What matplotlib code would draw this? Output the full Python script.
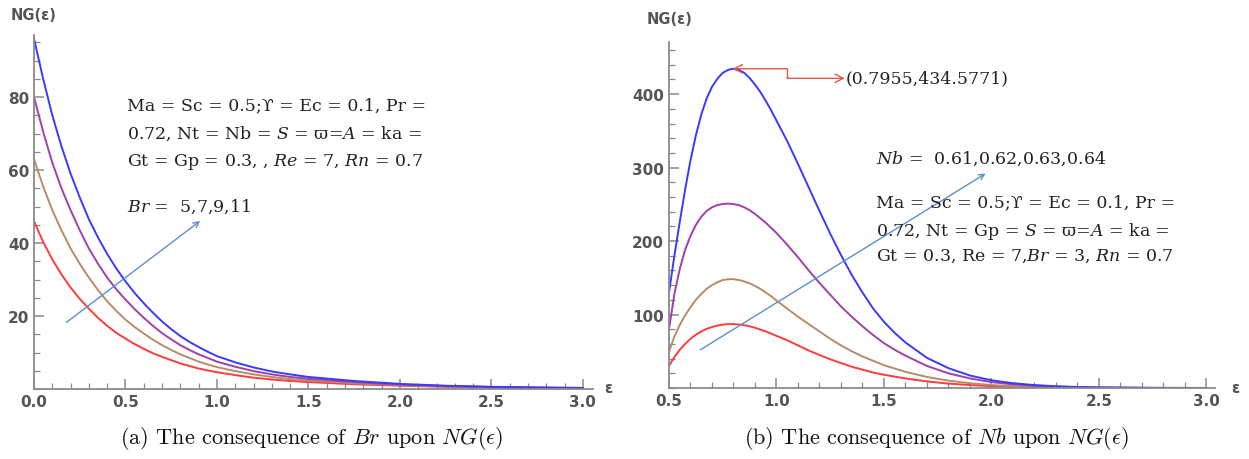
import matplotlib
matplotlib.use('Agg')
import matplotlib.pyplot as plt
from matplotlib.ticker import MultipleLocator, FormatStrFormatter

plt.rcParams['mathtext.fontset'] = 'custom'
plt.rcParams['mathtext.rm'] = 'DejaVu Serif'
plt.rcParams['mathtext.it'] = 'DejaVu Serif:italic'
plt.rcParams['mathtext.fallback'] = 'stix'

# (a) entropy generation vs epsilon for Br = 5, 7, 9, 11
eps_a = [0.0, 0.05, 0.1, 0.15, 0.2, 0.25, 0.3, 0.35, 0.4, 0.45, 0.5, 0.55,
         0.6, 0.65, 0.7, 0.75, 0.8, 0.85, 0.9, 0.95, 1.0, 1.1, 1.2, 1.3, 1.4,
         1.5, 1.75, 2.0, 2.25, 2.5, 2.75, 3.0]
ng_br5 = [46, 40.3, 35.5, 31.4, 27.8, 24.7, 22, 19.5, 17.3, 15.4, 13.8, 12.3,
          11, 9.8, 8.8, 7.9, 7, 6.3, 5.6, 5.1, 4.6, 3.8, 3.1, 2.6, 2.2,
          1.9, 1.3, 0.9, 0.6, 0.45, 0.32, 0.22]
ng_br7 = [63, 55.5, 49, 43.5, 38.5, 34.3, 30.5, 27.1, 24, 21.4, 19, 17,
          15.2, 13.5, 12, 10.7, 9.5, 8.5, 7.5, 6.7, 6, 4.9, 4, 3.3, 2.7,
          2.3, 1.6, 1.05, 0.7, 0.5, 0.35, 0.25]
ng_br9 = [80, 70.5, 62, 55, 49, 43.5, 38.5, 34.3, 30.5, 27.3, 24.5, 21.9,
          19.5, 17.3, 15.3, 13.6, 12, 10.7, 9.5, 8.5, 7.5, 6.1, 4.9, 4, 3.3,
          2.8, 1.9, 1.2, 0.8, 0.55, 0.38, 0.27]
ng_br11 = [96, 85, 75, 66.5, 59, 52.5, 46.5, 41.5, 37, 33, 29.5, 26.3,
           23.5, 20.9, 18.5, 16.4, 14.5, 12.9, 11.5, 10.2, 9, 7.3, 5.9, 4.8, 4,
           3.3, 2.2, 1.4, 0.9, 0.6, 0.4, 0.3]

# (b) entropy generation vs epsilon for Nb = 0.61 ... 0.64
eps_b = [0.5, 0.525, 0.55, 0.575, 0.6, 0.625, 0.65, 0.675, 0.7, 0.725, 0.75,
         0.775, 0.7955, 0.825, 0.85, 0.875, 0.9, 0.925, 0.95, 0.975, 1.0,
         1.05, 1.1, 1.15, 1.2, 1.25, 1.3, 1.35, 1.4, 1.45, 1.5, 1.55, 1.6,
         1.7, 1.8, 1.9, 2.0, 2.1, 2.2, 2.3, 2.4, 2.5, 2.75, 3.0]
ng_nb61 = [30, 42, 52, 60, 67, 72.5, 77, 80.5, 83, 85, 86.3,
           87, 87, 86.5, 85.5, 84, 82, 79.5, 77, 74, 71,
           65, 58, 51, 45, 39, 34, 29, 25, 21, 18, 15.5, 13,
           9, 6, 4, 2.5, 1.5, 0.9, 0.55, 0.3, 0.2, 0.05, 0.01]
ng_nb62 = [49, 70, 86, 99, 110, 120, 128, 135, 140, 144, 147,
           148, 148.3, 147, 145, 142.5, 139, 135, 130, 125, 119,
           108, 97, 87, 77, 67, 58, 50, 43, 37, 31, 26.5, 22,
           15, 10, 6.5, 4, 2.5, 1.5, 0.9, 0.5, 0.3, 0.08, 0.02]
ng_nb63 = [80, 128, 162, 188, 207, 222, 233, 241, 246, 249, 250.5,
           251, 250.5, 249, 246, 242, 237, 231, 225, 218, 211,
           195, 178, 160, 143, 127, 111, 97, 84, 72, 61, 52, 44,
           30, 20, 13, 8, 5, 3, 1.8, 1, 0.6, 0.15, 0.04]
ng_nb64 = [130, 180, 226, 270, 310, 344, 372, 394, 410, 421, 429,
           433, 434.5771, 433, 429, 422, 413, 403, 391, 378, 364,
           336, 305, 273, 241, 210, 181, 154, 130, 108, 90, 75, 62,
           41, 27, 17, 10.5, 6.5, 4, 2.4, 1.4, 0.8, 0.2, 0.05]
peak = (0.7955, 434.5771)

colors = ['#ff3b3b', '#b88c66', '#a040a8', '#3a3aff']
tick_color = '#555555'
axis_color = '#8a8a8a'

fig = plt.figure(figsize=(12.49, 4.6), dpi=100)
W, H = 1249, 460


def px_axes(x0, y_top, x1, y_bot):
    return fig.add_axes([x0 / W, 1 - y_bot / H, (x1 - x0) / W, (y_bot - y_top) / H])


def style(ax, xmaj, xmin, ymaj, ymin):
    for s in ['top', 'right']:
        ax.spines[s].set_visible(False)
    for s in ['left', 'bottom']:
        ax.spines[s].set_color(axis_color)
        ax.spines[s].set_linewidth(1.3)
    ax.xaxis.set_major_locator(MultipleLocator(xmaj))
    ax.xaxis.set_minor_locator(MultipleLocator(xmin))
    ax.yaxis.set_major_locator(MultipleLocator(ymaj))
    ax.yaxis.set_minor_locator(MultipleLocator(ymin))
    ax.xaxis.set_major_formatter(FormatStrFormatter('%.1f'))
    ax.tick_params(which='major', direction='in', length=7, width=1.1,
                   color=axis_color, labelsize=11, labelcolor=tick_color)
    ax.tick_params(which='minor', direction='in', length=4, width=0.9,
                   color=axis_color)


def bold_ticks(ax):
    for lab in ax.get_xticklabels() + ax.get_yticklabels():
        lab.set_fontweight('bold')


txt = dict(fontsize=12.5, color='#222222', va='center', ha='left',
           family='DejaVu Serif')
lab = dict(fontsize=10.5, fontweight='bold', color=tick_color, va='center')

# ---- panel (a)
ax1 = px_axes(34, 36, 593, 390)
for y, c in zip([ng_br5, ng_br7, ng_br9, ng_br11], colors):
    ax1.plot(eps_a, y, color=c, lw=1.4)
ax1.set_xlim(0, 3.055)
ax1.set_ylim(0, 97)
style(ax1, 0.5, 0.1, 20, 5)
ax1.set_yticks([20, 40, 60, 80])
bold_ticks(ax1)
ax1.annotate('', xy=(0.92, 46.5), xytext=(0.165, 17.8),
             arrowprops=dict(arrowstyle='->', color='#5b8fd0', lw=1.0))
ax1.text(0.508, 77.8, 'Ma = Sc = 0.5;ϒ = Ec = 0.1, Pr =', **txt)
ax1.text(0.508, 70.1, '0.72, Nt = Nb = $S$ = ϖ=$A$ = ka =', **txt)
ax1.text(0.508, 62.5, 'Gt = Gp = 0.3, , $Re$ = 7, $Rn$ = 0.7', **txt)
ax1.text(0.508, 50.1, '$Br$ =  5,7,9,11', **txt)
fig.text(11 / W, 1 - 15 / H, 'NG(ε)', **lab)
fig.text(604 / W, 1 - 389 / H, 'ε', **lab)

# ---- panel (b)
ax2 = px_axes(669, 43, 1215, 389)
for y, c in zip([ng_nb61, ng_nb62, ng_nb63, ng_nb64], colors):
    ax2.plot(eps_b, y, color=c, lw=1.4)
ax2.set_xlim(0.5, 3.04)
ax2.set_ylim(0, 471)
style(ax2, 0.5, 0.1, 100, 20)
ax2.set_yticks([100, 200, 300, 400])
bold_ticks(ax2)
ax2.annotate('', xy=(1.984, 294), xytext=(0.635, 50),
             arrowprops=dict(arrowstyle='->', color='#5b8fd0', lw=1.0))

# elbow connector from the peak to its coordinate label
red = '#e0584a'
drop = 13
ax2.annotate('', xy=peak, xytext=(1.049, peak[1]),
             arrowprops=dict(arrowstyle='->,head_length=0.6,head_width=0.3',
                             color=red, lw=1.0, shrinkA=0, shrinkB=0))
ax2.plot([1.049, 1.049], [peak[1], peak[1] - drop], color=red, lw=1.0)
ax2.annotate('', xy=(1.318, peak[1] - drop), xytext=(1.049, peak[1] - drop),
             arrowprops=dict(arrowstyle='->,head_length=0.6,head_width=0.3',
                             color=red, lw=1.0, shrinkA=0, shrinkB=0))
ax2.text(1.322, peak[1] - drop, '(%.4f,%.4f)' % peak, **txt)

ax2.text(1.463, 313, '$Nb$ =  0.61,0.62,0.63,0.64', **txt)
ax2.text(1.463, 253, 'Ma = Sc = 0.5;ϒ = Ec = 0.1, Pr =', **txt)
ax2.text(1.463, 215, '0.72, Nt = Gp = $S$ = ϖ=$A$ = ka =', **txt)
ax2.text(1.463, 180, 'Gt = 0.3, Re = 7,$Br$ = 3, $Rn$ = 0.7', **txt)
fig.text(647 / W, 1 - 20 / H, 'NG(ε)', **lab)
fig.text(1231 / W, 1 - 389 / H, 'ε', **lab)

# captions
cap = dict(fontsize=16, color='#111111', ha='center', va='center',
           family='cmr10', math_fontfamily='cm')
fig.text(312 / W, 1 - 438 / H, r'(a) The consequence of $Br$ upon $NG(\epsilon)$', **cap)
fig.text(936 / W, 1 - 438 / H, r'(b) The consequence of $Nb$ upon $NG(\epsilon)$', **cap)

fig.savefig('out.png', dpi=100)
